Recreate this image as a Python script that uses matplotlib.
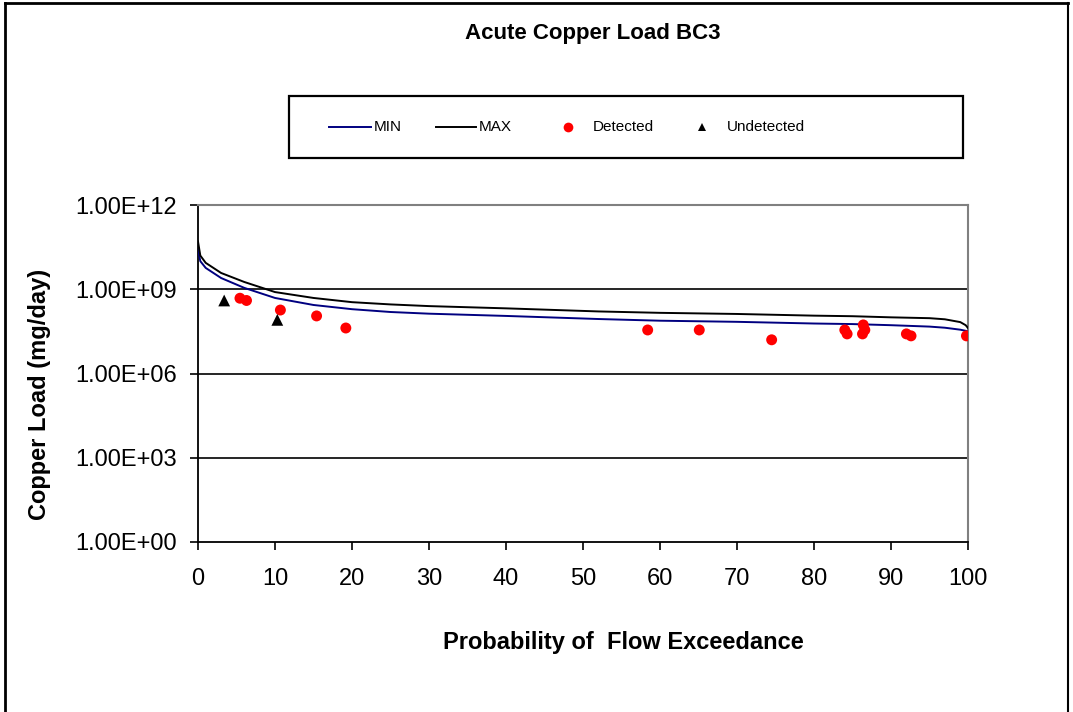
import matplotlib
matplotlib.use("Agg")
import matplotlib.pyplot as plt
from matplotlib.lines import Line2D
from matplotlib.patches import Rectangle

plt.rcParams['font.family'] = ['Liberation Sans', 'DejaVu Sans']

# Curve data (x = probability of flow exceedance, y = load mg/day)
curve_x = [0, 0.3, 1, 3, 6, 10, 15, 20, 25, 30, 40, 52, 60, 70, 80, 85, 90, 95, 97, 99, 99.7, 100]
max_y = [10**10.7, 10**10.2, 10**9.94, 10**9.58, 10**9.26, 10**8.9, 10**8.69, 10**8.54, 10**8.46,
         10**8.4, 10**8.32, 10**8.21, 10**8.16, 10**8.12, 10**8.06, 10**8.04, 10**8.0, 10**7.97,
         10**7.93, 10**7.83, 10**7.72, 10**7.62]
min_y = [10**10.4, 10**10.0, 10**9.76, 10**9.4, 10**9.05, 10**8.69, 10**8.44, 10**8.29, 10**8.19,
         10**8.13, 10**8.05, 10**7.94, 10**7.88, 10**7.84, 10**7.78, 10**7.76, 10**7.72, 10**7.67,
         10**7.63, 10**7.56, 10**7.52, 10**7.49]

det_x = [5.45, 6.3, 10.7, 15.4, 19.2, 58.4, 65.1, 74.5, 84.0, 84.3, 86.4, 86.6, 86.3, 92.0, 92.6, 99.8]
det_y = [10**8.68, 10**8.6, 10**8.26, 10**8.05, 10**7.62, 10**7.55, 10**7.55, 10**7.2, 10**7.55,
         10**7.41, 10**7.73, 10**7.55, 10**7.41, 10**7.41, 10**7.34, 10**7.34]

und_x = [3.4, 10.3]
und_y = [10**8.6, 10**7.91]

xticks = list(range(0, 101, 10))
yticks = [1e0, 1e3, 1e6, 1e9, 1e12]
ytick_labels = ["1.00E+00", "1.00E+03", "1.00E+06", "1.00E+09", "1.00E+12"]

W, H = 1073, 712
def fx(px):
    return px / W
def fy(py):
    return 1 - py / H

fig = plt.figure(figsize=(W / 100, H / 100), dpi=100)
ax = fig.add_axes([fx(198), fy(542), (968 - 198) / W, (542 - 205) / H])

ax.plot(curve_x, min_y, color='#000080', lw=1.4, zorder=3)
ax.plot(curve_x, max_y, color='black', lw=1.4, zorder=3)
ax.scatter(det_x, det_y, color='red', s=62, marker='o', zorder=4, edgecolors='none')
ax.scatter(und_x, und_y, color='black', s=72, marker='^', zorder=4, edgecolors='none')

ax.set_yscale('log')
ax.set_xlim(0, 100)
ax.set_ylim(1e0, 1e12)
ax.set_xticks(xticks)
ax.set_xticklabels([str(t) for t in xticks], fontsize=17)
ax.set_yticks(yticks)
ax.set_yticklabels(ytick_labels, fontsize=17)
ax.minorticks_off()
ax.tick_params(axis='both', direction='out', length=6, width=1.2, color='black')
ax.tick_params(axis='y', pad=9)
ax.tick_params(axis='x', pad=13)
for yv in [1e3, 1e6, 1e9]:
    ax.axhline(yv, color='black', lw=1.2, zorder=1)

ax.spines['left'].set_color('black')
ax.spines['bottom'].set_color('black')
ax.spines['left'].set_linewidth(1.3)
ax.spines['bottom'].set_linewidth(1.3)
ax.spines['top'].set_color('#808080')
ax.spines['right'].set_color('#808080')
ax.spines['top'].set_linewidth(1.5)
ax.spines['right'].set_linewidth(1.5)

fig.text(fx(623), fy(642), 'Probability of  Flow Exceedance', ha='center', va='center',
         fontsize=17, fontweight='bold')
fig.text(fx(40), fy(394), 'Copper Load (mg/day)', ha='center', va='center', rotation=90,
         fontsize=17, fontweight='bold')
fig.text(fx(593), fy(33), 'Acute Copper Load BC3', ha='center', va='center',
         fontsize=16, fontweight='bold')

# Legend box drawn manually
fig.add_artist(Rectangle((fx(289), fy(158)), (963 - 289) / W, (158 - 96) / H,
                         transform=fig.transFigure, facecolor='white', edgecolor='black', lw=1.6))
ly = fy(127)
fig.add_artist(Line2D([fx(329), fx(371)], [ly, ly], color='#000080', lw=1.4, transform=fig.transFigure))
fig.text(fx(374), ly, 'MIN', ha='left', va='center', fontsize=11)
fig.add_artist(Line2D([fx(436), fx(476)], [ly, ly], color='black', lw=1.4, transform=fig.transFigure))
fig.text(fx(479), ly, 'MAX', ha='left', va='center', fontsize=11)
fig.add_artist(Line2D([fx(568)], [ly], color='red', marker='o', ls='none', markersize=7,
                      markeredgewidth=0, transform=fig.transFigure))
fig.text(fx(593), ly, 'Detected', ha='left', va='center', fontsize=11)
fig.add_artist(Line2D([fx(702)], [ly], color='black', marker='^', ls='none', markersize=6,
                      markeredgewidth=0, transform=fig.transFigure))
fig.text(fx(727), ly, 'Undetected', ha='left', va='center', fontsize=11)

# Figure border
fig.add_artist(Line2D([fx(5), fx(5)], [0, fy(3)], color='black', lw=2, transform=fig.transFigure))
fig.add_artist(Line2D([fx(5), fx(1068)], [fy(3), fy(3)], color='black', lw=2, transform=fig.transFigure))
fig.add_artist(Line2D([fx(1068), fx(1068)], [0, fy(3)], color='black', lw=1.5, transform=fig.transFigure))

fig.savefig('out.png', dpi=100)
